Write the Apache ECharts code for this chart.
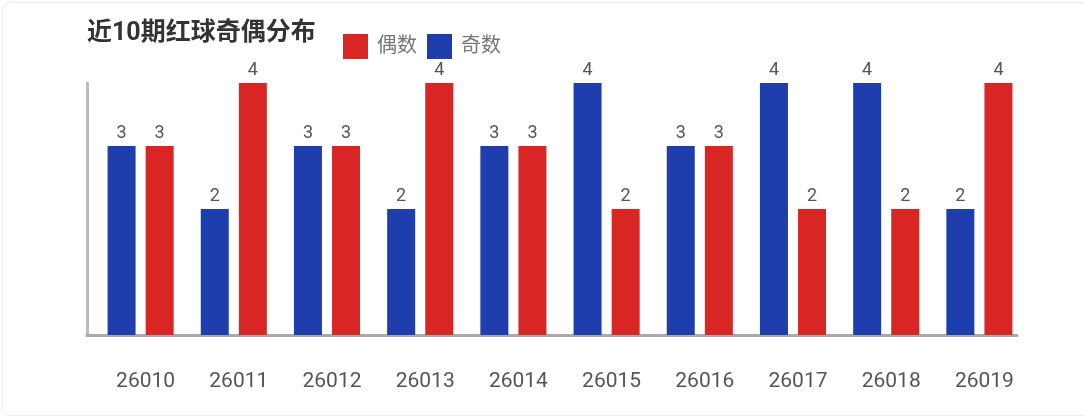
<!DOCTYPE html>
<html>
<head>
<meta charset="utf-8">
<script src="https://cdn.jsdelivr.net/npm/echarts@6/dist/echarts.min.js"></script>
<style>
html,body{margin:0;padding:0;background:#fff;overflow:hidden;}
#frame{position:absolute;left:2px;top:2px;width:1200px;height:412px;border:1px solid #ececec;border-radius:8px;}
#chart{position:absolute;left:0;top:0;width:1084px;height:420px;}
</style>
</head>
<body>
<div id="frame"></div>
<div id="chart"></div>
<script>
const categories = ['26010','26011','26012','26013','26014','26015','26016','26017','26018','26019'];
const oddCounts  = [3, 2, 3, 2, 3, 4, 3, 4, 4, 2];   // 奇数
const evenCounts = [3, 4, 3, 4, 3, 2, 3, 2, 2, 4];   // 偶数
const titleText = '近10期红球奇偶分布';
const oddName = '奇数';
const evenName = '偶数';

const chart = echarts.init(document.getElementById('chart'), null, {renderer: 'canvas'});
const font = 'Roboto, "Noto Sans CJK SC", sans-serif';
const valueLabel = {show: true, position: 'top', distance: 4, color: '#555', fontSize: 18, fontFamily: font};
chart.setOption({
  animation: false,
  title: {
    text: titleText, left: 82, top: 16,
    textStyle: {fontSize: 25, fontWeight: 'bold', color: '#333', fontFamily: font}
  },
  legend: {
    data: [evenName, oddName],
    left: 338, top: 29,
    itemWidth: 25, itemHeight: 25, itemGap: 10,
    icon: 'rect',
    textStyle: {fontSize: 20, color: '#777', fontFamily: font, padding: [0,0,0,4]}
  },
  grid: [
    {left: 94, right: 58, top: 83, bottom: 85},
    {left: 87, right: 67, top: 83, bottom: 85}
  ],
  xAxis: [
    {
      type: 'category', data: categories, gridIndex: 0,
      axisLine: {show: false}, axisTick: {show: false},
      axisLabel: {color: '#555', fontSize: 21, fontFamily: font, margin: 36, padding: [0,0,0,10]}
    },
    {
      type: 'value', gridIndex: 1, min: 0, max: 1,
      axisLine: {show: true, lineStyle: {color: '#aaa', width: 3}},
      axisTick: {show: false}, axisLabel: {show: false}, splitLine: {show: false}
    }
  ],
  yAxis: [
    {
      type: 'value', gridIndex: 0, min: 0, max: 4,
      axisLine: {show: false}, axisTick: {show: false}, axisLabel: {show: false}, splitLine: {show: false}
    },
    {
      type: 'value', gridIndex: 1, min: 0, max: 1,
      axisLine: {show: true, lineStyle: {color: '#bbb', width: 3}},
      axisTick: {show: false}, axisLabel: {show: false}, splitLine: {show: false}
    }
  ],
  series: [
    {
      name: oddName, type: 'bar', data: oddCounts,
      xAxisIndex: 0, yAxisIndex: 0,
      barWidth: 28, barGap: '36%',
      itemStyle: {color: '#1f3ead'},
      label: valueLabel
    },
    {
      name: evenName, type: 'bar', data: evenCounts,
      xAxisIndex: 0, yAxisIndex: 0,
      barWidth: 28, barGap: '36%',
      itemStyle: {color: '#da2525'},
      label: valueLabel
    }
  ]
});
</script>
</body>
</html>
